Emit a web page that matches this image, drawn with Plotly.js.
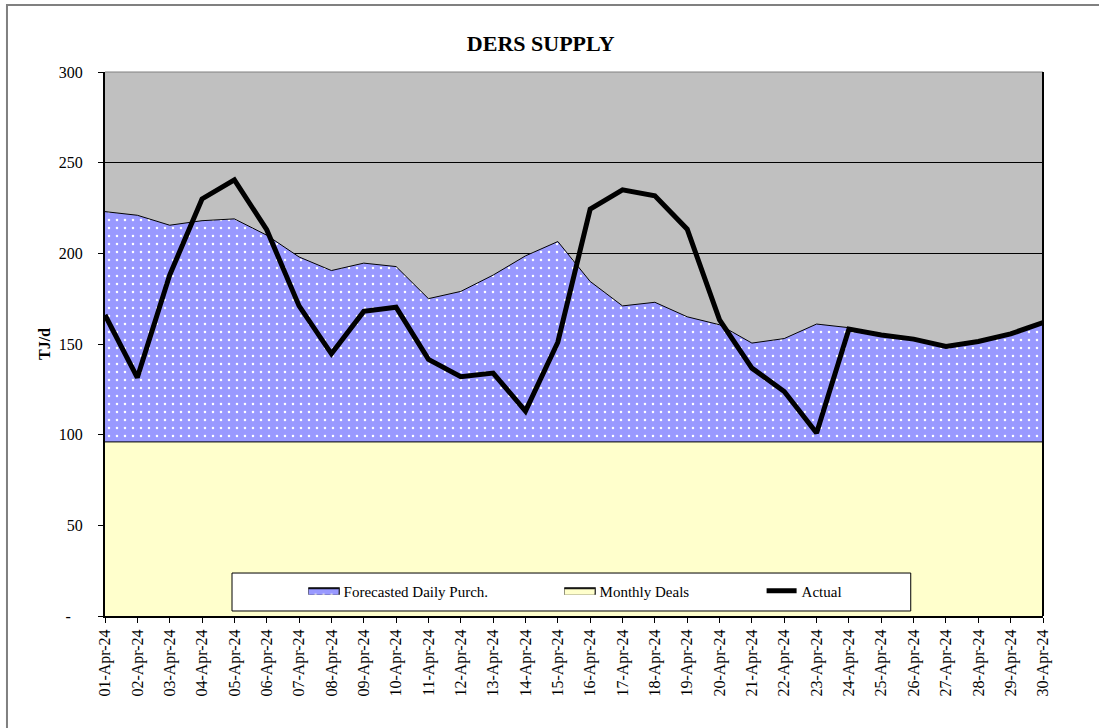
<!DOCTYPE html>
<html>
<head>
<meta charset="utf-8">
<script src="https://cdn.plot.ly/plotly-3.0.1.min.js"></script>
<style>
  html, body { margin: 0; padding: 0; background: #fff; }
  #chart { width: 1099px; height: 728px; }
</style>
</head>
<body>
<div id="chart"></div>
<script>
// DERS supply chart - April 2024

// day labels on the category axis
const days = [
    '01-Apr-24', '02-Apr-24', '03-Apr-24', '04-Apr-24', '05-Apr-24', '06-Apr-24',
    '07-Apr-24', '08-Apr-24', '09-Apr-24', '10-Apr-24', '11-Apr-24', '12-Apr-24',
    '13-Apr-24', '14-Apr-24', '15-Apr-24', '16-Apr-24', '17-Apr-24', '18-Apr-24',
    '19-Apr-24', '20-Apr-24', '21-Apr-24', '22-Apr-24', '23-Apr-24', '24-Apr-24',
    '25-Apr-24', '26-Apr-24', '27-Apr-24', '28-Apr-24', '29-Apr-24', '30-Apr-24'
];

// TJ/d
const monthlyDeals = [
    96, 96, 96, 96, 96, 96, 96, 96, 96, 96, 96, 96, 96, 96, 96,
    96, 96, 96, 96, 96, 96, 96, 96, 96, 96, 96, 96, 96, 96, 96
];

// forecasted daily purchases, stacked on top of the monthly deals
const forecastDaily = [
    127, 125, 119.5, 122, 123, 114, 102, 94.5, 98.6, 96.7,
    79, 83, 92, 102.6, 110.5, 88.5, 75, 77, 69, 64.6,
    54.5, 57, 65, 63, 59, 56.7, 52.6, 55.4, 59.6, 65.8
];

const actual = [
    166, 131.5, 188, 230, 240.5, 213, 171, 144.6, 168, 170.3,
    141.5, 132, 134, 113, 151, 224.4, 235, 231.7, 213.3, 163.3,
    136.7, 123.8, 100.9, 158.2, 155, 152.7, 148.6, 151.4, 155.6, 161.8
];

const yTickVals = [0, 50, 100, 150, 200, 250, 300];
const yTickText = ['-\u00a0\u00a0\u00a0', '50', '100', '150', '200', '250', '300'];

const FONT = 'Liberation Serif, Times New Roman, serif';
const BLUE = '#9999FF';
const YELLOW = '#FFFFCC';

const traces = [
    {
        x: days,
        y: monthlyDeals,
        name: 'Monthly Deals',
        type: 'scatter',
        mode: 'lines',
        stackgroup: 'supply',
        line: { color: '#000000', width: 1 },
        fillcolor: YELLOW,
        legend: 'legend2',
        hoverinfo: 'skip'
    },
    {
        x: days,
        y: forecastDaily,
        name: 'Forecasted Daily Purch.',
        type: 'scatter',
        mode: 'lines',
        stackgroup: 'supply',
        line: { color: '#000000', width: 1 },
        fillcolor: BLUE,
        fillpattern: {
            shape: '.',
            bgcolor: BLUE,
            fgcolor: '#FFFFFF',
            size: 8,
            solidity: 0.08
        },
        legend: 'legend',
        hoverinfo: 'skip'
    },
    {
        x: days,
        y: actual,
        name: 'Actual',
        type: 'scatter',
        mode: 'lines',
        line: { color: '#000000', width: 5 },
        legend: 'legend3',
        hoverinfo: 'skip'
    }
];

// one legend per entry so each can sit where the original puts it
function legendAt(x) {
    return {
        orientation: 'h',
        x: x,
        xanchor: 'left',
        y: 0.046,
        yanchor: 'middle',
        bgcolor: 'rgba(0,0,0,0)',
        borderwidth: 0,
        font: { family: FONT, size: 15 }
    };
}

// framed swatch behind a legend entry (paper coords)
function swatchBox(x0, x1, fill) {
    return {
        type: 'rect', xref: 'paper', yref: 'paper',
        x0: x0, x1: x1, y0: 0.0404, y1: 0.0515,
        line: { color: '#000000', width: 1.5 },
        fillcolor: fill,
        layer: 'above'
    };
}

const layout = {
    width: 1099,
    height: 728,
    margin: { l: 105, r: 56, t: 72, b: 112, autoexpand: false },
    paper_bgcolor: '#FFFFFF',
    plot_bgcolor: '#C0C0C0',
    font: { family: FONT, color: '#000000', size: 16 },
    title: {
        text: '<b>DERS SUPPLY</b>',
        font: { family: FONT, size: 22 },
        x: 0.492,
        xanchor: 'center',
        y: 0.941,
        yanchor: 'middle'
    },
    xaxis: {
        type: 'category',
        range: [0, days.length - 1],
        showgrid: false,
        showline: true,
        linecolor: '#000000',
        linewidth: 2,
        ticks: 'outside',
        ticklen: 5,
        tickcolor: '#000000',
        tickangle: -90,
        tickfont: { family: FONT, size: 16 },
        fixedrange: true,
        zeroline: false
    },
    yaxis: {
        range: [0, 300],
        tickvals: yTickVals,
        ticktext: yTickText,
        showgrid: true,
        gridcolor: '#000000',
        gridwidth: 1,
        showline: true,
        linecolor: '#000000',
        linewidth: 2,
        ticks: 'outside',
        ticklen: 5,
        tickcolor: '#000000',
        ticklabelstandoff: 12,
        tickfont: { family: FONT, size: 16 },
        title: {
            text: '<b>TJ/d</b>',
            font: { family: FONT, size: 16 },
            standoff: 4
        },
        fixedrange: true,
        zeroline: false
    },
    showlegend: true,
    legend: legendAt(0.2117),
    legend2: legendAt(0.4846),
    legend3: legendAt(0.7000),
    shapes: [
        // outer chart frame (only top and left fall inside the picture)
        {
            type: 'rect', xref: 'paper', yref: 'paper',
            x0: -0.1045, x1: 1.2, y0: -0.4, y1: 1.1232,
            line: { color: '#808080', width: 2 },
            fillcolor: 'rgba(0,0,0,0)',
            layer: 'below'
        },
        // top and right edges of the plot area
        {
            type: 'line', xref: 'paper', yref: 'paper',
            x0: 0, x1: 1, y0: 1, y1: 1,
            line: { color: '#808080', width: 1 },
            layer: 'above'
        },
        {
            type: 'line', xref: 'paper', yref: 'paper',
            x0: 1, x1: 1, y0: 0, y1: 1,
            line: { color: '#000000', width: 2 },
            layer: 'above'
        },
        // legend box
        {
            type: 'rect', xref: 'paper', yref: 'paper',
            x0: 0.1354, x1: 0.859, y0: 0.0092, y1: 0.079,
            line: { color: '#000000', width: 1 },
            fillcolor: '#FFFFFF',
            layer: 'above'
        },
        swatchBox(0.2175, 0.2495, BLUE),
        swatchBox(0.4904, 0.5224, YELLOW)
    ]
};

const config = { displayModeBar: false, staticPlot: true };

Plotly.newPlot('chart', traces, layout, config);
</script>
</body>
</html>
